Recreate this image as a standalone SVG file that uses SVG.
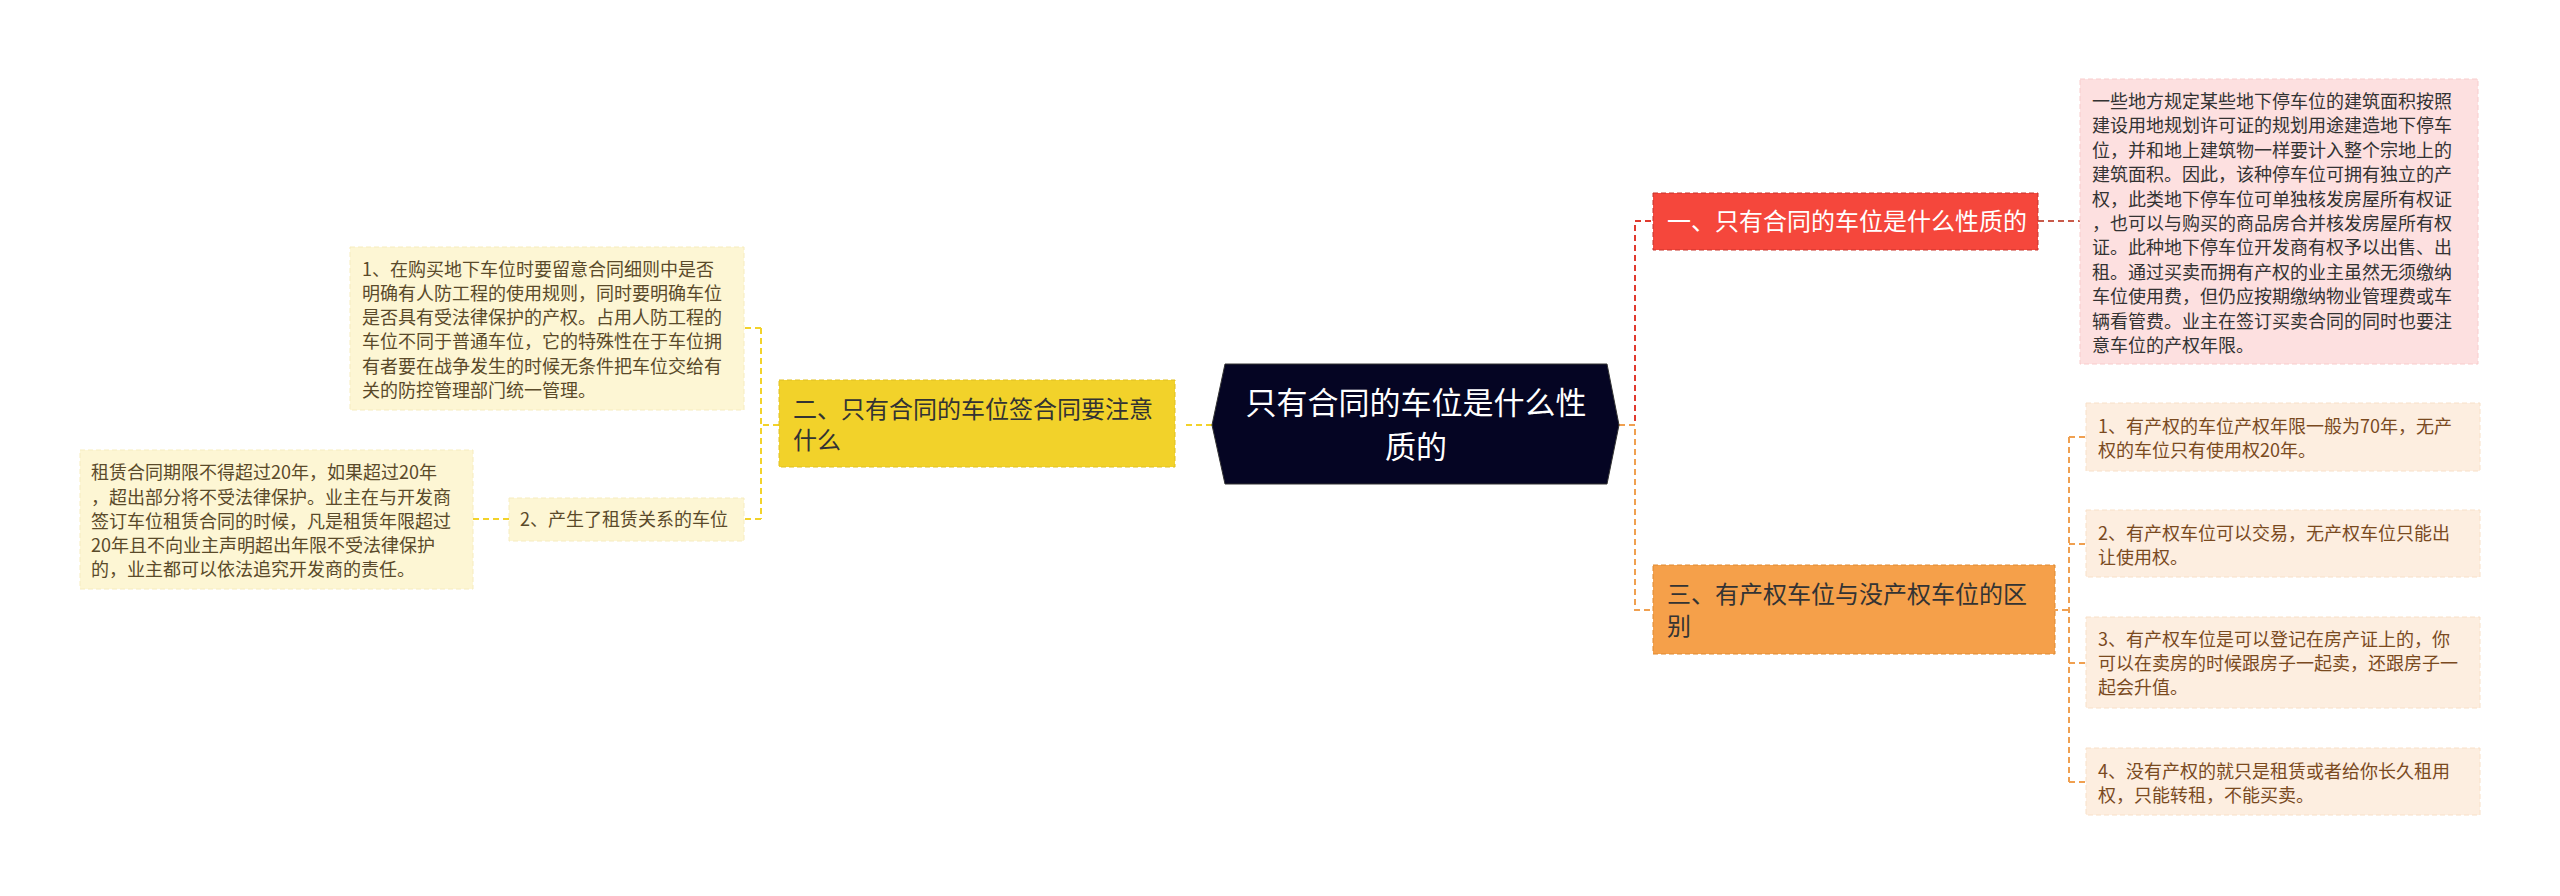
<svg xmlns="http://www.w3.org/2000/svg" width="2560" height="896" viewBox="0 0 2560 896">
<style>
text{font-family:"Noto Sans CJK SC","Noto Sans",sans-serif;}
.c{fill:none;stroke-width:2;stroke-dasharray:6 4;}
.leafR{fill:#fdeee0;stroke:#f8e0c8;stroke-dasharray:5 3;}
.leafY{fill:#fdf6d4;stroke:#f6ecbf;stroke-dasharray:5 3;}
.tR{font-size:18px;fill:#7a4a1f;}
.tY{font-size:18px;fill:#5a4a2a;}
.tP{font-size:18px;fill:#333;}
</style>
<rect width="2560" height="896" fill="#fff"/>
<g id="connectors">
<path class="c" stroke="#e03a2e" d="M1619,425 H1635 V221 H1653"/>
<path class="c" stroke="#c85a4a" d="M2038,221 H2080"/>
<path class="c" stroke="#f0a050" d="M1619,425 H1635 V610 H1653"/>
<path class="c" stroke="#f0a050" d="M2052,610 H2069 M2069,437 V782 M2069,437 H2086 M2069,544 H2086 M2069,663 H2086 M2069,782 H2086"/>
<path class="c" stroke="#f2d22a" d="M1212,425 H1182"/>
<path class="c" stroke="#f2d22a" d="M779,425 H761 M761,328 V519 M761,328 H744 M761,519 H744 M509,519 H473"/>
</g>
<g id="root">
<polygon points="1225,364 1607,364 1619,425 1607,484 1225,484 1212,425" fill="#050523" stroke="#333"/>
<text x="1416" y="414" font-size="31" fill="#fff" text-anchor="middle">只有合同的车位是什么性</text>
<text x="1416" y="458" font-size="31" fill="#fff" text-anchor="middle">质的</text>
</g>
<g id="n1">
<rect x="1653" y="193" width="385" height="57" fill="#f5473c" stroke="#c8322a" stroke-dasharray="5 3"/>
<text x="1667" y="230" font-size="24" fill="#fff">一、只有合同的车位是什么性质的</text>
</g>
<g id="n1leaf">
<rect x="2080" y="79" width="398" height="285" fill="#fde0e0" stroke="#f8cccc" stroke-dasharray="5 3"/>
<g class="tP">
<text x="2092" y="108">一些地方规定某些地下停车位的建筑面积按照</text>
<text x="2092" y="132">建设用地规划许可证的规划用途建造地下停车</text>
<text x="2092" y="157">位，并和地上建筑物一样要计入整个宗地上的</text>
<text x="2092" y="181">建筑面积。因此，该种停车位可拥有独立的产</text>
<text x="2092" y="206">权，此类地下停车位可单独核发房屋所有权证</text>
<text x="2092" y="230">，也可以与购买的商品房合并核发房屋所有权</text>
<text x="2092" y="254">证。此种地下停车位开发商有权予以出售、出</text>
<text x="2092" y="279">租。通过买卖而拥有产权的业主虽然无须缴纳</text>
<text x="2092" y="303">车位使用费，但仍应按期缴纳物业管理费或车</text>
<text x="2092" y="328">辆看管费。业主在签订买卖合同的同时也要注</text>
<text x="2092" y="352">意车位的产权年限。</text>
</g>
</g>
<g id="n3">
<rect x="1653" y="565" width="402" height="89" fill="#f5a04a" stroke="#e08a30" stroke-dasharray="5 3"/>
<text x="1667" y="603" font-size="24" fill="#333">三、有产权车位与没产权车位的区</text>
<text x="1667" y="635" font-size="24" fill="#333">别</text>
</g>
<g id="n3a">
<rect class="leafR" x="2086" y="403" width="394" height="68"/>
<text class="tR" x="2098" y="433">1、有产权的车位产权年限一般为70年，无产</text>
<text class="tR" x="2098" y="457">权的车位只有使用权20年。</text>
</g>
<g id="n3b">
<rect class="leafR" x="2086" y="510" width="394" height="67"/>
<text class="tR" x="2098" y="540">2、有产权车位可以交易，无产权车位只能出</text>
<text class="tR" x="2098" y="564">让使用权。</text>
</g>
<g id="n3c">
<rect class="leafR" x="2086" y="617" width="394" height="91"/>
<text class="tR" x="2098" y="646">3、有产权车位是可以登记在房产证上的，你</text>
<text class="tR" x="2098" y="670">可以在卖房的时候跟房子一起卖，还跟房子一</text>
<text class="tR" x="2098" y="694">起会升值。</text>
</g>
<g id="n3d">
<rect class="leafR" x="2086" y="748" width="394" height="67"/>
<text class="tR" x="2098" y="778">4、没有产权的就只是租赁或者给你长久租用</text>
<text class="tR" x="2098" y="802">权，只能转租，不能买卖。</text>
</g>
<g id="n2">
<rect x="779" y="380" width="396" height="87" fill="#f2d22a" stroke="#e0c020" stroke-dasharray="5 3"/>
<text x="793" y="418" font-size="24" fill="#333">二、只有合同的车位签合同要注意</text>
<text x="793" y="449" font-size="24" fill="#333">什么</text>
</g>
<g id="n2a">
<rect class="leafY" x="350" y="247" width="394" height="163"/>
<text class="tY" x="362" y="276">1、在购买地下车位时要留意合同细则中是否</text>
<text class="tY" x="362" y="300">明确有人防工程的使用规则，同时要明确车位</text>
<text class="tY" x="362" y="324">是否具有受法律保护的产权。占用人防工程的</text>
<text class="tY" x="362" y="348">车位不同于普通车位，它的特殊性在于车位拥</text>
<text class="tY" x="362" y="373">有者要在战争发生的时候无条件把车位交给有</text>
<text class="tY" x="362" y="397">关的防控管理部门统一管理。</text>
</g>
<g id="n2b">
<rect class="leafY" x="509" y="498" width="235" height="43"/>
<text class="tY" x="520" y="526">2、产生了租赁关系的车位</text>
</g>
<g id="n2b1">
<rect class="leafY" x="80" y="450" width="393" height="139"/>
<text class="tY" x="91" y="479">租赁合同期限不得超过20年，如果超过20年</text>
<text class="tY" x="91" y="504">，超出部分将不受法律保护。业主在与开发商</text>
<text class="tY" x="91" y="528">签订车位租赁合同的时候，凡是租赁年限超过</text>
<text class="tY" x="91" y="552">20年且不向业主声明超出年限不受法律保护</text>
<text class="tY" x="91" y="576">的，业主都可以依法追究开发商的责任。</text>
</g>
</svg>
